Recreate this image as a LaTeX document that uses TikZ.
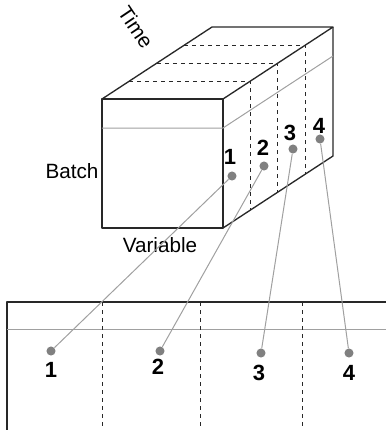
\documentclass[tikz,border=0pt]{standalone}
\usepackage{fontspec}
\setmainfont{Liberation Sans}
\usetikzlibrary{positioning}
\definecolor{edgegray}{RGB}{40,40,40}
\definecolor{dotgray}{RGB}{128,128,128}
\definecolor{linegray}{RGB}{160,160,160}

\begin{document}
\begin{tikzpicture}[x=0.75pt, y=-0.75pt, font=\fontsize{15.5}{18}\selectfont,
    edge/.style={edgegray, line width=1pt, line join=round},
    cut/.style={edgegray, dashed, line width=0.75pt},
    guide/.style={linegray, line width=0.75pt},
    dot/.style={circle, fill=dotgray, inner sep=0pt, minimum size=6.8pt},
    num/.style={font=\fontsize{16.5}{18}\selectfont\bfseries, inner sep=0pt}]
  \useasboundingbox (0,0) rectangle (386,430);
  % Top: data cube
  \draw[edge, fill=white] (102,99) rectangle (223,228);
  \draw[edge] (102,99) -- (212,27) -- (333,27) -- (223,99);
  \draw[edge] (333,27) -- (333,156) -- (223,228);
  \draw[guide] (102,128) -- (223,128) -- (333,56);
  \foreach \t in {0.25,0.5,0.75} {
    \draw[cut] (102+110*\t, 99-72*\t) -- (223+110*\t, 99-72*\t)
               -- (223+110*\t, 228-72*\t);
  }
  \node[rotate=-56] (time) at (136,27) {Time};
  \node (batch) at (72,171) {Batch};
  \node (variable) at (160,245) {Variable};
  % Bottom: unfolded matrix
  \draw[edge] (386,302) -- (7,302) -- (7,430);
  \draw[guide] (7,329) -- (386,329);
  \foreach \x in {103,201,303} {
    \draw[cut] (\x,302) -- (\x,430);
  }
  % slices on the cube and in the matrix
  \node[dot] (c1) at (232,176) {};
  \node[dot] (c2) at (264,166) {};
  \node[dot] (c3) at (293,149) {};
  \node[dot] (c4) at (320,139) {};
  \node[dot] (m1) at (51,351) {};
  \node[dot] (m2) at (160,351) {};
  \node[dot] (m3) at (261,353) {};
  \node[dot] (m4) at (349,353) {};
  \foreach \i in {1,...,4} {
    \draw[guide] (c\i) -- (m\i);
  }
  \node[num] (cl1) at (230,157) {1};
  \node[num] (cl2) at (263,148) {2};
  \node[num] (cl3) at (290,133) {3};
  \node[num] (cl4) at (319,126) {4};
  \node[num] (ml1) at (51,370) {1};
  \node[num] (ml2) at (158,367) {2};
  \node[num] (ml3) at (259,373) {3};
  \node[num] (ml4) at (349,373) {4};
\end{tikzpicture}
\end{document}
